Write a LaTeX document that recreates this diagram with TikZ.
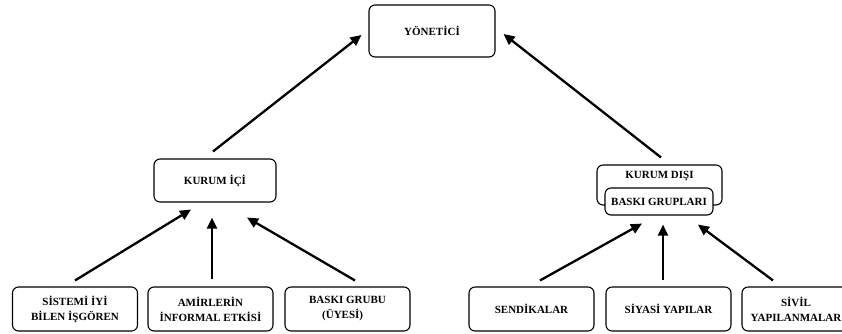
\documentclass[tikz,border=0pt]{standalone}
\usepackage{fontspec}
\setmainfont{Liberation Serif}
\usetikzlibrary{arrows.meta,calc}
\tikzset{
  box/.style={draw, rounded corners=6pt, line width=1.1pt, inner sep=0pt, align=center,
    font=\bfseries\fontsize{11}{15}\selectfont},
  bot/.style={box, minimum width=125pt, minimum height=44pt},
  lbl/.style={inner sep=0pt, font=\bfseries\fontsize{11}{15}\selectfont},
  arr/.style={line width=2.3pt, -{Triangle[length=11pt,width=10pt]}}
}
\begin{document}
\begin{tikzpicture}[x=1pt,y=-1pt]
\useasboundingbox (0,0) rectangle (842,333);
\clip (0,0) rectangle (842,333);
% top
\node[box, minimum width=126pt, minimum height=52pt] (y) at (432,31) {YÖNETİCİ};
% middle
\node[box, minimum width=122pt, minimum height=43pt] (ki) at (215,180.5) {KURUM İÇİ};
\node[box, minimum width=125pt, minimum height=40pt] (kd) at (659.5,185) {};
\node[lbl] (kdt) at (659.5,176) {KURUM DIŞI};
\node[box, fill=white, minimum width=108pt, minimum height=27pt] (bg) at (659,201.5) {BASKI GRUPLARI};
% bottom
\node[bot] (b1) at (75,309) {SİSTEMİ İYİ\\BİLEN İŞGÖREN};
\node[bot] (b2) at (210.5,309) {AMİRLERİN\\İNFORMAL ETKİSİ};
\node[bot, align=left] (b3) at (347.5,309) {BASKI GRUBU\\\hspace*{13pt}(ÜYESİ)};
\node[bot] (b4) at (531.5,309) {SENDİKALAR};
\node[bot] (b5) at (668.5,309) {SİYASİ YAPILAR};
\node[bot, minimum width=108pt] (b6) at (796,309) {SİVİL\\YAPILANMALAR};
% arrows
\draw[arr] ($(ki.north)+(-2,-7)$) -- ($(y.west)+(-7,4)$);
\draw[arr] ($(kd.north)+(1.5,-7)$) -- ($(y.east)+(8,3)$);
\draw[arr] ($(b1.north)+(0,-6)$) -- ($(ki.south)+(-24,7)$);
\draw[arr] ($(b2.north)+(1.5,-7)$) -- ($(ki.south)+(-3,15)$);
\draw[arr] ($(b3.north)+(7.5,-6)$) -- ($(ki.south)+(32,15)$);
\draw[arr] ($(b4.north)+(8.5,-6)$) -- ($(bg.south)+(-17,8)$);
\draw[arr] ($(b5.north)+(-5.5,-6)$) -- ($(bg.south)+(4,9)$);
\draw[arr] ($(b6.north)+(-23,-6)$) -- ($(bg.south)+(39,9)$);
\end{tikzpicture}
\end{document}
